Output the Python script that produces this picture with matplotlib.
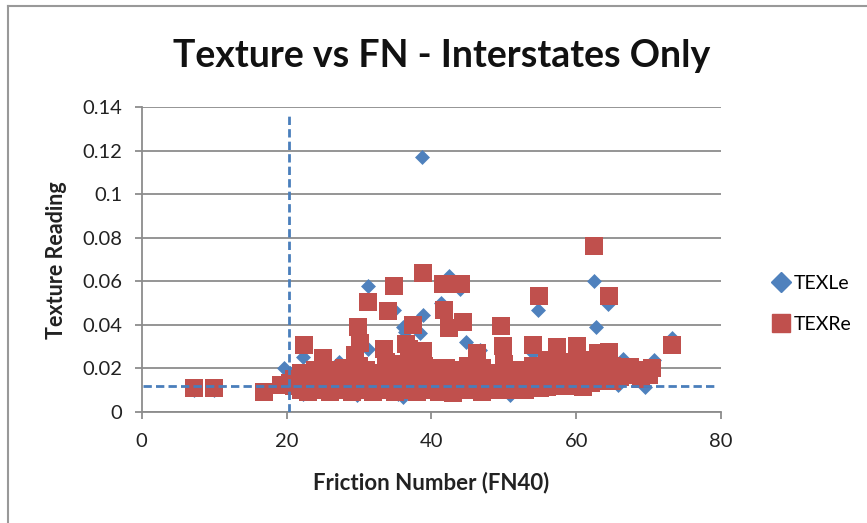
import matplotlib.pyplot as plt
from matplotlib.lines import Line2D

# TEXLe readings (blue diamonds)
texle_fn = [7.2, 10.0, 17.0, 19.6, 20.5, 22.3, 22.3, 24.0, 26.0, 27.3, 28.0, 29.7, 30.0,
            31.2, 31.2, 32.0, 34.0, 34.8, 35.4, 36.1, 36.1, 36.4, 37.0, 38.4, 38.7, 38.9,
            40.0, 41.3, 42.0, 42.5, 44.0, 44.8, 45.0, 46.7, 47.0, 48.8, 50.0, 50.9, 52.0,
            54.0, 54.7, 55.0, 57.0, 59.0, 61.0, 62.5, 62.7, 63.0, 64.4, 65.0, 65.8, 66.4,
            67.0, 69.5, 70.7, 73.2]
texle_val = [0.0100, 0.0100, 0.0090, 0.0200, 0.0180, 0.0253, 0.0080, 0.0120, 0.0140, 0.0230,
             0.0110, 0.0077, 0.0150, 0.0580, 0.0290, 0.0130, 0.0160, 0.0470, 0.0080, 0.0069,
             0.0390, 0.0368, 0.0120, 0.0360, 0.1173, 0.0445, 0.0140, 0.0499, 0.0120, 0.0624,
             0.0563, 0.0320, 0.0130, 0.0284, 0.0150, 0.0100, 0.0120, 0.0077, 0.0140, 0.0270,
             0.0468, 0.0130, 0.0150, 0.0140, 0.0160, 0.0601, 0.0388, 0.0150, 0.0494, 0.0170,
             0.0123, 0.0243, 0.0160, 0.0115, 0.0240, 0.0338]

# TEXRe readings (red squares)
texre_fn = [7.2, 10.0, 16.9, 19.3, 20.5, 22.4, 25.0, 29.5, 29.9, 30.2, 31.2, 33.4, 33.7,
            34.0, 34.8, 36.5, 36.9, 37.4, 38.8, 38.9, 41.6, 41.7, 42.5, 44.1, 44.4, 46.3,
            49.6, 49.9, 54.0, 54.8, 57.3, 60.1, 62.5, 63.0, 64.5, 64.6, 67.4, 69.7, 70.5,
            73.2,
            21, 21, 22, 22, 22, 23, 23, 23, 24, 24, 24, 25, 25, 25, 26, 26, 26, 27, 27, 27,
            28, 28, 28, 28, 29, 29, 29, 29, 30, 30, 30, 30, 31, 31, 31, 32, 32, 32, 33, 33,
            33, 34, 34, 34, 34, 35, 35, 35, 36, 36, 36, 36, 37, 37, 37, 38, 38, 38, 38, 38,
            39, 39, 39, 39, 40, 40, 40, 40, 41, 41, 41, 42, 42, 42, 43, 43, 43, 44, 44, 44,
            45, 45, 45, 46, 46, 47, 47, 47, 48, 48, 49, 49, 49, 50, 50, 50, 51, 51, 52, 52,
            53, 53, 53, 54, 54, 54, 55, 55, 55, 56, 56, 56, 56, 57, 57, 57, 58, 58, 58, 59,
            59, 59, 60, 60, 60, 61, 61, 61, 62, 62, 62, 63, 63, 63, 64, 64, 64, 65, 65, 65,
            66, 66, 67, 69, 69, 70,
            23.5, 26.5, 29.5, 32.5, 35.5, 38.5, 41.5, 44.5, 47.5, 50.5, 53.5, 56.5, 59.5]
texre_val = [0.0108, 0.0108, 0.0092, 0.0123, 0.0130, 0.0307, 0.0245, 0.0260, 0.0390, 0.0315,
             0.0506, 0.0290, 0.0230, 0.0463, 0.0580, 0.0310, 0.0290, 0.0400, 0.0637, 0.0280,
             0.0586, 0.0470, 0.0384, 0.0586, 0.0414, 0.0268, 0.0394, 0.0300, 0.0307, 0.0532,
             0.0296, 0.0300, 0.0762, 0.0270, 0.0532, 0.0275, 0.0207, 0.0190, 0.0200, 0.0307,
             0.012, 0.015, 0.010, 0.014, 0.018, 0.009, 0.012, 0.016, 0.011, 0.013, 0.019, 0.010,
             0.015, 0.021, 0.009, 0.012, 0.017, 0.011, 0.014, 0.019, 0.010, 0.013, 0.016, 0.020,
             0.009, 0.012, 0.015, 0.018, 0.010, 0.013, 0.017, 0.021, 0.011, 0.014, 0.019, 0.009,
             0.012, 0.016, 0.010, 0.014, 0.018, 0.011, 0.013, 0.017, 0.020, 0.009, 0.012, 0.015,
             0.010, 0.014, 0.018, 0.022, 0.011, 0.013, 0.016, 0.009, 0.012, 0.015, 0.019, 0.023,
             0.010, 0.014, 0.017, 0.021, 0.011, 0.013, 0.016, 0.020, 0.009, 0.012, 0.018, 0.010,
             0.015, 0.020, 0.0085, 0.013, 0.017, 0.011, 0.014, 0.019, 0.010, 0.016, 0.021, 0.012,
             0.018, 0.009, 0.014, 0.020, 0.011, 0.016, 0.010, 0.013, 0.018, 0.012, 0.017, 0.022,
             0.010, 0.015, 0.011, 0.019, 0.010, 0.014, 0.017, 0.012, 0.016, 0.021, 0.011, 0.015,
             0.019, 0.0113, 0.014, 0.018, 0.024, 0.012, 0.016, 0.021, 0.013, 0.017, 0.023, 0.012,
             0.015, 0.019, 0.013, 0.018, 0.022, 0.0113, 0.016, 0.020, 0.013, 0.017, 0.024, 0.014,
             0.019, 0.022, 0.015, 0.018, 0.025, 0.014, 0.017, 0.021, 0.016, 0.020, 0.017, 0.015,
             0.018, 0.017,
             0.014, 0.015, 0.013, 0.015, 0.017, 0.014, 0.015, 0.013, 0.017, 0.015, 0.013, 0.016,
             0.017]

# threshold lines
fn_limit = 20.3
texture_limit = 0.012

blue = '#4F81BD'
red = '#C0504D'
grid_gray = '#8C8C8C'
font = 'Lato'

fig = plt.figure(figsize=(8.67, 5.23), dpi=100)
W, H = 867, 523
ax = fig.add_axes([141.7 / W, 1 - 411.7 / H, (721 - 141.7) / W, (411.7 - 107.3) / H])

ax.scatter(texle_fn, texle_val, marker='D', s=58, color=blue, linewidths=0, zorder=3)
ax.scatter(texre_fn, texre_val, marker='s', s=165, color=red, linewidths=0, zorder=4)

ax.plot([fn_limit, fn_limit], [0, 0.1365], color='#4A7EBB', lw=2, dashes=(3, 1.5), zorder=5)
ax.plot([0.2, 79.4], [texture_limit, texture_limit], color='#4A7EBB', lw=2,
        dashes=(3, 1.5), zorder=5)

ax.set_xlim(0, 80)
ax.set_ylim(0, 0.14)
ax.set_xticks([0, 20, 40, 60, 80])
ax.set_yticks([0, 0.02, 0.04, 0.06, 0.08, 0.1, 0.12, 0.14])
ax.set_yticklabels(['0', '0.02', '0.04', '0.06', '0.08', '0.1', '0.12', '0.14'])
ax.yaxis.grid(True, color=grid_gray, lw=1.3)
ax.set_axisbelow(True)
for s in ['top', 'right']:
    ax.spines[s].set_visible(False)
for s in ['left', 'bottom']:
    ax.spines[s].set_color(grid_gray)
    ax.spines[s].set_linewidth(1.3)
ax.tick_params(axis='both', colors=grid_gray, length=5, width=1.3, labelcolor='#222222',
               labelsize=14.5)
ax.tick_params(axis='x', pad=10)
ax.tick_params(axis='y', pad=9)
for lab in ax.get_xticklabels() + ax.get_yticklabels():
    lab.set_family(font)

fig.text(442 / W, 1 - 56 / H, 'Texture vs FN - Interstates Only', ha='center', va='center',
         fontsize=27, fontweight='bold', family=font, color='#111111')
fig.text(431 / W, 1 - 483 / H, 'Friction Number (FN40)', ha='center', va='center',
         fontsize=16, fontweight='bold', family=font, color='#222222')
fig.text(57 / W, 1 - 260 / H, 'Texture Reading', ha='center', va='center', rotation=90,
         fontsize=15.5, fontweight='bold', family=font, color='#222222')

handles = [Line2D([], [], marker='D', ls='none', color=blue, markersize=10),
           Line2D([], [], marker='s', ls='none', color=red, markersize=13)]
fig.legend(handles, ['TEXLe', 'TEXRe'], loc='center left', bbox_to_anchor=(752 / W, 1 - 304 / H),
           frameon=False, prop={'family': font, 'size': 14}, handletextpad=0.05,
           labelspacing=1.25, handlelength=1.2)

# chart border (left and top edges visible)
fig.add_artist(Line2D([8 / W, 8 / W], [0, 1 - 6 / H], color='#999999', lw=1.5))
fig.add_artist(Line2D([8 / W, 1], [1 - 6 / H, 1 - 6 / H], color='#999999', lw=1.5))

fig.savefig('out.png', dpi=100)
